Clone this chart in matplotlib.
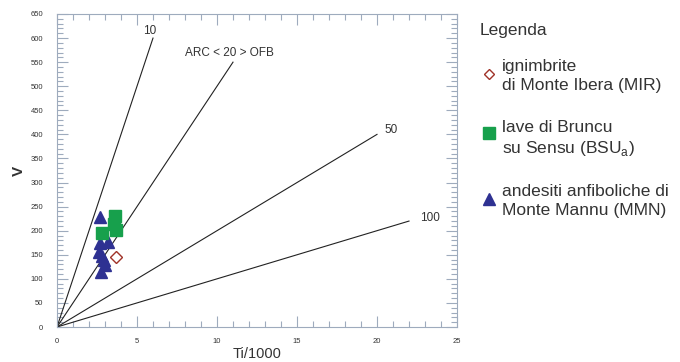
import numpy as np
import matplotlib.pyplot as plt
from matplotlib.ticker import MultipleLocator

plt.rcParams['font.family'] = ['Liberation Sans', 'DejaVu Sans']

# Dati (Ti/1000, V)
mir_ti = [3.67]
mir_v = [145]

bsu_ti = [3.63, 3.56, 3.69, 2.81]
bsu_v = [231, 214, 201, 195]

mmn_ti = [2.69, 2.69, 3.19, 2.63, 2.81, 2.94, 3.0, 2.75]
mmn_v = [228, 174, 177, 156, 147, 139, 129, 114]

# Linee Ti/V: rapporto e Ti/1000 finale
ratios = [10, 20, 50, 100]
line_end = [6, 11, 20, 22]
line_labels = ["10", "ARC < 20 > OFB", "50", "100"]
label_pos = [(5.8, 615), (10.8, 570), (20.9, 410), (23.3, 226)]

frame_col = '#9eabbd'
text_col = '#333333'

fig = plt.figure(figsize=(6.8, 3.62), dpi=100)
ax = fig.add_axes([57/680, 35/362, 400/680, 313/362])

for r, xe in zip(ratios, line_end):
    xs = np.array([0, xe])
    ax.plot(xs, xs * 1000 / r, color='#222222', lw=0.8)

for lab, (lx, ly) in zip(line_labels, label_pos):
    ax.text(lx, ly, lab, fontsize=8.5, color=text_col, ha='center', va='center')

ax.plot(mmn_ti, mmn_v, '^', color='#2e3192', ms=8.5, mec='#2e3192', ls='none')
ax.plot(bsu_ti, bsu_v, 's', color='#17a04c', ms=8, mec='#17a04c', ls='none')
ax.plot(mir_ti, mir_v, 'D', mfc='none', mec='#a03228', mew=1.0, ms=6, ls='none')

ax.set_xlim(0, 25)
ax.set_ylim(0, 650)
ax.xaxis.set_major_locator(MultipleLocator(5))
ax.xaxis.set_minor_locator(MultipleLocator(1))
ax.yaxis.set_major_locator(MultipleLocator(50))
ax.yaxis.set_minor_locator(MultipleLocator(10))
ax.tick_params(which='both', direction='in', top=True, right=True,
               color=frame_col, width=0.8, labelsize=5.5, labelcolor=text_col)
ax.tick_params(which='major', length=8)
ax.tick_params(which='minor', length=4)
ax.tick_params(axis='x', pad=8)
ax.tick_params(axis='y', pad=10)
for s in ax.spines.values():
    s.set_color(frame_col)
    s.set_linewidth(0.8)

ax.set_xlabel('Ti/1000', fontsize=10.5, color=text_col, labelpad=1)
ax.set_ylabel('V', fontsize=11, fontweight='bold', color=text_col, labelpad=3)

# Legenda
fs = 12.5
fig.text(480/680, 1 - 31/362, 'Legenda', fontsize=fs, color=text_col, va='center')
fig.lines.append(plt.Line2D([489/680], [1 - 74/362], marker='D', mfc='none',
                            mec='#a03228', mew=1.0, ms=5.5, transform=fig.transFigure))
fig.lines.append(plt.Line2D([489/680], [1 - 133/362], marker='s', color='#17a04c',
                            ms=8, transform=fig.transFigure))
fig.lines.append(plt.Line2D([489/680], [1 - 199/362], marker='^', color='#2e3192',
                            ms=8.5, transform=fig.transFigure))
fig.text(502/680, 1 - 76/362, 'ignimbrite\ndi Monte Ibera (MIR)', fontsize=fs,
         color=text_col, va='center', linespacing=1.35)
fig.text(502/680, 1 - 139/362, 'lave di Bruncu\nsu Sensu (BSU$_{\\mathregular{a}}$)',
         fontsize=fs, color=text_col, va='center', linespacing=1.35)
fig.text(502/680, 1 - 201/362, 'andesiti anfiboliche di\nMonte Mannu (MMN)', fontsize=fs,
         color=text_col, va='center', linespacing=1.35)

fig.savefig('out.png', dpi=100)
